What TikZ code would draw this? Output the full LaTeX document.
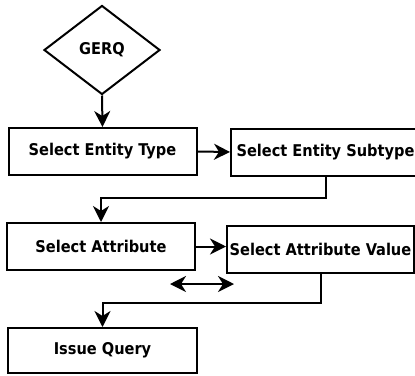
\documentclass[tikz,border=0pt]{standalone}
\usepackage{fontspec}
\setmainfont{DejaVu Sans Condensed}
\usetikzlibrary{shapes.geometric,arrows.meta}

\tikzset{
  box/.style={draw,line width=2pt,minimum width=188pt,minimum height=47pt,
    inner sep=1pt,font=\fontsize{16.2}{19}\selectfont\bfseries},
  gerqshape/.style={draw,diamond,line width=2pt,minimum width=116pt,
    minimum height=89pt,inner sep=0pt,font=\fontsize{16.2}{19}\selectfont\bfseries},
  flow/.style={line width=2pt,-{Stealth[length=16pt,width=16pt,inset=5pt]}}
}

\begin{document}
\begin{tikzpicture}[x=1pt,y=-1pt]
\useasboundingbox (0,0) rectangle (415,375);
\clip (0,0) rectangle (415,375);

\node[gerqshape] (gerq) at (102,50) {GERQ};
\node[box] (type) at (102.5,151.5) {Select Entity Type};
\node[box,minimum width=189pt] (subtype) at (325.5,152) {Select Entity Subtype};
\node[box] (attr) at (101,246.5) {Select Attribute};
\node[box,minimum width=187pt] (value) at (320.5,249.5) {Select Attribute Value};
\node[box,minimum width=189pt,minimum height=45pt] (query) at (102.5,350.5) {Issue Query};

\coordinate (swapl) at (170,284);
\coordinate (swapr) at (234,284);

\draw[flow] (gerq.south) -- (type.north);
\draw[flow] (type.east) -- (subtype.west);
\draw[flow] (subtype.south) -- ++(0,21) -| (attr.north);
\draw[flow] (attr.east) -- (attr.east -| value.west);
\draw[line width=2pt,{Stealth[length=16pt,width=16pt,inset=5pt]}-{Stealth[length=16pt,width=16pt,inset=5pt]}] (swapl) -- (swapr);
\draw[flow] (value.south) -- ++(0,29) -| (query.north);
\end{tikzpicture}
\end{document}
